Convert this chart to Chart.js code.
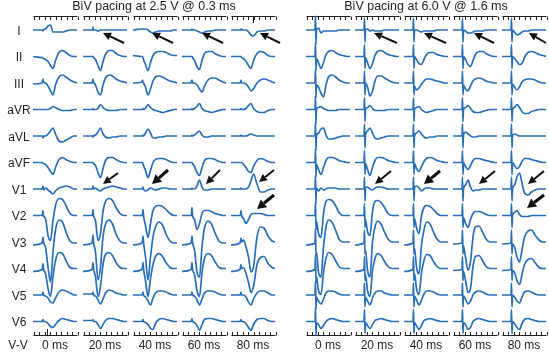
<!DOCTYPE html>
<html>
<head>
<meta charset="utf-8">
<script src="https://cdn.jsdelivr.net/npm/chart.js@4.4.1/dist/chart.umd.min.js"></script>
<style>
  body { margin: 0; background: #fff; }
  #wrap { width: 549px; height: 353px; }
</style>
</head>
<body>
<div id="wrap"><canvas id="ecg" width="549" height="353"></canvas></div>
<script>
const PANELS = ['BiV pacing at 2.5 V @ 0.3 ms', 'BiV pacing at 6.0 V @ 1.6 ms'];
const DELAYS = ['0 ms', '20 ms', '40 ms', '60 ms', '80 ms'];
const LEADS = ['I', 'II', 'III', 'aVR', 'aVL', 'aVF', 'V1', 'V2', 'V3', 'V4', 'V5', 'V6'];

// sample times inside one strip
const T = [0, 9, 9.5, 10, 10.5, 12.5, 15, 17.5, 20, 22.5, 26, 29.5, 33, 37, 41, 44];

// amplitudes per strip (5 V-V delays), left = 2.5 V, right = 6.0 V
const I_L = [
    [0,0,0,-1,0,1,4,5,-2,-2,-2,-2,-1,0,0,0],
    [0,0,0,3,0,0,-1,0,0,0,0,0,0,0,0,0],
    [0,1,1,1,1,1,0,-2,-3,-2,-1,-1,-1,-1,0,0],
    [0,0,0,1,0,0,-1,-2,-3,-2,-1,-1,0,0,0,0],
    [0,0,0,1,0,0,0,-2,-5,-6,-2,-1,-1,0,0,0]
];
const I_R = [
    [0,0,14,-14,0,2,-3,-1,-1,-1,-1,-1,0,0,0,0],
    [0,0,12,-12,0,1,-1,0,-1,-1,-1,0,0,0,0,0],
    [0,0,12,-12,0,0,-1,-2,-1,-1,-1,-1,0,0,0,0],
    [0,0,12,-12,0,-1,-3,-3,-2,-1,-1,-1,0,0,0,0],
    [0,0,12,-12,0,-2,-5,-4,-2,-1,-1,0,0,0,0,0]
];
const II_L = [
    [0,-1,-1,-2,-2,-3,-5,-9,-12,-4,4,6,4,1,0,0],
    [0,0,0,0,-1,-3,-9,-14,-5,2,6,6,3,1,0,0],
    [1,0,0,-1,-3,-8,-14,-6,1,4,5,5,4,2,1,1],
    [0,0,0,0,-1,-4,-10,-13,-4,3,5,5,3,1,0,0],
    [0,0,0,0,-1,-2,-5,-9,-12,-4,3,5,4,1,0,0]
];
const II_R = [
    [0,0,14,-14,-2,-6,-12,-6,2,5,6,4,2,1,0,0],
    [0,0,12,-12,-1,-6,-12,-7,1,5,6,4,2,1,0,0],
    [0,0,12,-12,0,-3,-7,-8,-3,2,4,4,2,1,0,0],
    [0,0,12,-12,0,-3,-8,-10,-4,2,5,5,3,1,0,0],
    [0,0,12,-12,0,-2,-5,-8,-7,-1,4,5,4,2,1,0]
];
const III_L = [
    [-1,0,2,4,1,0,-3,-8,-12,-2,6,8,6,3,1,0],
    [0,0,2,4,1,-2,-9,-12,-2,5,8,7,4,2,1,0],
    [0,1,3,1,0,-4,-12,-6,2,6,7,6,4,2,1,0],
    [0,0,2,3,0,0,-2,-6,-9,-3,3,5,5,3,1,0],
    [0,0,1,3,0,0,-1,-4,-8,-6,0,3,4,3,1,0]
];
const III_R = [
    [0,0,14,-14,-2,-4,-10,-14,-2,6,8,6,3,1,0,0],
    [0,0,12,-12,0,-4,-13,-8,2,7,7,5,3,1,0,0],
    [0,0,12,-12,-3,-7,-5,-1,2,4,4,3,2,1,0,0],
    [0,0,12,-12,-2,-6,-8,-3,2,4,5,4,2,1,0,0],
    [0,0,12,-12,-1,-4,-7,-4,1,3,4,4,3,1,0,0]
];
const aVR_L = [
    [0,0,0,0,0,0,0,1,3,2,0,-1,-1,-1,0,0],
    [0,0,0,1,0,0,1,5,2,0,-1,-1,-1,0,0,0],
    [0,0,0,1,0,1,5,2,0,-1,-2,-3,-2,-1,0,0],
    [0,0,0,1,0,1,3,6,1,-1,-2,-3,-2,-1,0,0],
    [0,0,0,1,0,0,1,4,6,1,-2,-3,-3,-1,0,0]
];
const aVR_R = [
    [0,0,14,-14,0,2,3,1,0,-1,-1,-1,0,0,0,0],
    [0,0,12,-12,0,2,4,1,-1,-1,-1,-1,0,0,0,0],
    [0,0,12,-12,0,2,3,0,-2,-3,-2,-1,0,0,0,0],
    [0,0,12,-12,0,2,4,1,-2,-3,-3,-2,-1,0,0,0],
    [0,0,12,-12,0,2,5,2,-2,-4,-4,-2,-1,0,0,0]
];
const aVL_L = [
    [0,0,0,-2,0,0,2,5,8,2,-5,-6,-4,-2,0,0],
    [0,0,0,-1,0,1,4,8,2,-1,-2,-1,-1,0,0,0],
    [0,0,0,1,0,3,7,3,-2,-2,-1,-1,0,0,0,0],
    [0,0,0,1,0,1,3,5,1,-1,-1,0,0,0,0,0],
    [0,0,0,1,0,0,0,1,2,1,0,0,0,0,0,0]
];
const aVL_R = [
    [0,0,14,-14,0,3,7,8,1,-3,-3,-2,-1,0,0,0],
    [0,0,12,-12,1,5,8,3,-2,-3,-2,-1,0,0,0,0],
    [0,0,12,-12,0,3,5,2,-1,-2,-1,-1,0,0,0,0],
    [0,0,12,-12,1,4,2,0,-1,-1,0,0,0,0,0,0],
    [0,0,12,-12,0,2,1,0,0,0,0,0,0,0,0,0]
];
const aVF_L = [
    [0,0,0,-1,-1,-2,-5,-9,-12,-5,3,5,3,1,0,0],
    [0,0,0,0,-1,-3,-10,-15,-6,2,5,5,3,1,0,0],
    [0,0,0,-1,-3,-8,-15,-8,0,3,4,4,3,1,0,0],
    [0,0,0,0,-1,-4,-10,-13,-5,2,4,4,3,1,0,0],
    [0,0,0,0,0,-2,-5,-9,-10,-4,2,4,3,1,0,0]
];
const aVF_R = [
    [0,0,14,-14,-2,-7,-12,-5,2,5,5,4,2,1,0,0],
    [0,0,12,-12,-1,-7,-13,-5,2,5,5,4,2,1,0,0],
    [0,0,12,-12,-1,-6,-9,-4,1,4,5,4,2,1,0,0],
    [0,0,12,-12,0,-4,-7,-3,2,4,4,3,2,1,0,0],
    [0,0,12,-12,0,-3,-6,-4,1,4,4,3,2,1,0,0]
];
const V1_L = [
    [0,0,1,3,-1,1,-1,-3,-5,-2,1,2,3,2,0,0],
    [0,0,1,3,0,1,-1,-2,0,1,2,3,2,1,0,0],
    [0,0,1,2,0,-2,-1,1,0,-1,0,1,1,0,0,0],
    [0,0,0,1,0,0,3,9,2,-1,-1,0,0,0,0,0],
    [0,0,0,1,0,0,0,2,8,15,5,-3,-3,-1,0,0]
];
const V1_R = [
    [0,0,14,-14,1,-2,1,-1,0,1,1,1,0,0,0,0],
    [0,0,12,-12,1,2,0,-1,1,2,2,1,0,0,0,0],
    [0,0,12,-12,1,3,1,-2,0,1,1,0,0,0,0,0],
    [0,0,12,-12,0,4,9,2,-2,-1,-1,0,0,0,0,0],
    [0,0,12,-12,0,4,12,16,6,-4,-6,-3,-1,0,0,0]
];
const V2_L = [
    [0,0,1,5,0,-3,-20,-25,-5,10,17,16,10,2,0,0],
    [0,0,2,6,0,-5,-25,-18,4,14,17,15,8,2,0,0],
    [0,0,1,6,0,-10,-22,-8,5,9,10,9,6,2,0,0],
    [0,0,2,8,0,-4,-14,-8,2,5,5,4,2,1,0,0],
    [0,0,1,5,0,-3,-8,-4,1,2,2,2,1,0,0,0]
];
const V2_R = [
    [0,0,14,-14,-6,-18,-22,2,14,16,15,10,3,0,0,0],
    [0,0,12,-12,-4,-16,-20,4,14,15,13,8,2,0,0,0],
    [0,0,12,-12,-3,-12,-18,0,8,10,9,6,2,0,0,0],
    [0,0,12,-12,-2,-8,-12,-4,2,4,4,3,1,0,0,0],
    [0,0,12,-12,0,3,5,1,-1,-1,-1,0,0,0,0,0]
];
const V3_L = [
    [-3,-1,1,5,0,-5,-25,-40,-10,12,22,20,10,1,-1,-1],
    [-3,-1,2,7,0,-10,-38,-25,5,18,22,18,8,1,-1,-1],
    [-3,-1,2,6,0,-15,-38,-15,5,15,20,17,8,1,-1,-1],
    [-3,-1,2,6,0,-8,-30,-35,-5,14,21,18,9,1,-1,-1],
    [-3,-1,1,4,0,2,-5,-15,-30,-25,5,15,14,6,1,0]
];
const V3_R = [
    [-3,-1,14,-14,-10,-30,-35,-5,15,22,20,12,3,0,0,0],
    [-3,-1,12,-12,-8,-28,-35,0,15,21,18,10,3,0,0,0],
    [-3,-1,12,-12,-6,-25,-32,-3,12,20,18,10,3,0,0,0],
    [-2,-1,12,-12,-4,-15,-28,-20,5,15,16,10,3,0,0,0],
    [-2,-1,12,-12,-2,-5,-15,-20,-8,5,11,12,7,2,0,0]
];
const V4_L = [
    [-3,-1,1,5,0,-5,-20,-28,-8,8,16,15,8,1,0,0],
    [-3,-1,2,6,0,-8,-28,-18,4,14,16,13,6,1,0,0],
    [-3,-1,2,6,0,-12,-28,-10,4,12,15,12,6,1,0,0],
    [-3,-1,2,6,0,-6,-22,-28,-4,10,15,13,7,1,0,0],
    [-3,-1,1,4,0,1,-5,-14,-24,-18,4,11,12,5,1,0]
];
const V4_R = [
    [-3,-1,14,-14,-8,-22,-26,-4,10,16,14,8,2,0,0,0],
    [-3,-1,12,-12,-6,-22,-28,-2,10,15,13,7,2,0,0,0],
    [-3,-1,12,-12,-5,-20,-26,-4,8,14,13,7,2,0,0,0],
    [-2,-1,12,-12,-3,-12,-24,-20,2,12,13,8,2,0,0,0],
    [-2,-1,12,-12,-2,-4,-12,-16,-6,4,9,10,6,1,0,0]
];
const V5_L = [
    [0,0,1,3,0,-1,-3,-7,-8,-3,3,5,4,2,0,0],
    [1,1,1,3,0,-1,-5,-9,-4,2,5,4,2,1,0,0],
    [0,0,1,3,0,-2,-6,-10,-3,2,4,4,3,1,0,0],
    [0,0,1,3,0,-1,-5,-10,-4,2,4,4,3,1,0,0],
    [0,0,1,3,0,0,-2,-7,-10,-4,2,4,4,2,0,0]
];
const V5_R = [
    [0,0,14,-14,-2,-6,-9,-4,2,4,4,3,1,0,0,0],
    [0,0,12,-12,-2,-6,-10,-3,2,4,4,2,1,0,0,0],
    [0,0,12,-12,-1,-5,-10,-5,1,4,4,3,1,0,0,0],
    [0,0,12,-12,-1,-4,-9,-6,0,3,4,3,1,0,0,0],
    [0,0,12,-12,0,-2,-6,-8,-2,3,4,3,1,0,0,0]
];
const V6_L = [
    [0,0,1,2,0,0,-2,-5,-6,-3,1,3,2,1,0,0],
    [1,1,1,2,0,0,-3,-7,-3,1,3,3,2,1,0,0],
    [0,0,1,2,0,-1,-3,-7,-8,-2,2,3,2,1,0,0],
    [0,0,1,3,0,-1,-4,-9,-3,2,3,3,2,1,0,0],
    [0,0,1,2,0,0,-2,-6,-9,-3,2,3,3,1,0,0]
];
const V6_R = [
    [0,0,14,-14,-1,-3,-7,-4,0,2,3,2,1,0,0,0],
    [0,0,12,-12,-1,-4,-7,-3,1,2,3,2,1,0,0,0],
    [0,0,12,-12,-1,-4,-8,-4,1,2,3,2,1,0,0,0],
    [0,0,12,-12,-1,-3,-8,-6,0,2,3,2,1,0,0,0],
    [0,0,12,-12,0,-2,-6,-8,-2,2,3,2,1,0,0,0]
];

// arrows: [panel, delay, lead, tipT, tipAmp, tailT, tailAmp, heavy]
const ARROWS = [
    [0,1,0, 20,-3, 41,-13, 0], [0,2,0, 19,-3, 40,-13, 0], [0,3,0, 20,-3, 41,-13, 0], [0,4,0, 29,-3, 49,-13, 0],
    [1,1,0, 19,-3, 42,-13, 0], [1,2,0, 20,-3, 42,-13, 0], [1,3,0, 21,-3, 41,-13, 0], [1,4,0, 27,-3, 44,-13, 0],
    [0,1,6, 20,5, 35,16, 0], [0,2,6, 19,5, 35,19, 1], [0,3,6, 24,5, 38,19, 0], [0,4,6, 28,7, 43,19, 0],
    [0,4,7, 26,6.5, 43,20.5, 1],
    [1,1,6, 20,5, 36,18, 0], [1,2,6, 20,5, 36,18, 1], [1,3,6, 26,5, 42,18, 0], [1,4,6, 26,5, 42,18, 0],
    [1,4,7, 25,7.5, 42,20.5, 1]
];

const WAVES = [
    [I_L, I_R], [II_L, II_R], [III_L, III_R], [aVR_L, aVR_R], [aVL_L, aVL_R], [aVF_L, aVF_R],
    [V1_L, V1_R], [V2_L, V2_R], [V3_L, V3_R], [V4_L, V4_R], [V5_L, V5_R], [V6_L, V6_R]
];

/* Layout */

const COL_START = [[33, 83, 133, 182, 231], [306, 355, 404, 453, 502]];
const COL_W = 44;
const ROW_TOP = 30;
const ROW_GAP = 26.5;
const BLUE = '#2b6fb8';
const INK = '#231f20';

function baseline(lead) {
    return ROW_TOP + lead * ROW_GAP;
}

const datasets = [];
WAVES.forEach((pair, lead) => {
    pair.forEach((strips, panel) => {
        strips.forEach((vals, c) => {
            datasets.push({
                data: T.map((t, k) => ({ x: COL_START[panel][c] + t, y: baseline(lead) - vals[k] })),
                borderColor: BLUE,
                borderWidth: 1.7,
                pointRadius: 0,
                cubicInterpolationMode: 'monotone',
                fill: false
            });
        });
    });
});

/* Decoration: titles, lead names, rulers, arrows */

const ecgDecor = {
    id: 'ecgDecor',
    beforeDatasetsDraw(chart) {
        const { ctx, scales: { x, y } } = chart;
        ctx.save();
        ctx.fillStyle = INK;
        ctx.textBaseline = 'middle';
        ctx.textAlign = 'center';

        ctx.font = '12.5px "Liberation Sans", Arial, sans-serif';
        PANELS.forEach((title, p) => {
            const cx = (x.getPixelForValue(COL_START[p][0]) + x.getPixelForValue(COL_START[p][4] + COL_W)) / 2;
            ctx.fillText(title, cx, 7);
        });

        ctx.font = '12px "Liberation Sans", Arial, sans-serif';
        LEADS.forEach((name, l) => {
            ctx.fillText(name, 19, y.getPixelForValue(baseline(l)) + 1.5);
        });
        ctx.fillText('V-V', 18, 346);
        COL_START.forEach(cols => {
            cols.forEach((start, c) => {
                const cx = x.getPixelForValue(start + COL_W / 2);
                ctx.fillText(DELAYS[c], cx, 346);
            });
        });

        // time rulers above and below each strip
        ctx.strokeStyle = INK;
        ctx.lineWidth = 1;
        COL_START.forEach((cols, p) => {
            cols.forEach((start, c) => {
                const x0 = Math.round(x.getPixelForValue(start)) + 0.5;
                const x1 = Math.round(x.getPixelForValue(start + COL_W)) + 0.5;
                ctx.beginPath();
                ctx.moveTo(x0, 16.5); ctx.lineTo(x1, 16.5);
                ctx.moveTo(x0, 335.5); ctx.lineTo(x1, 335.5);
                for (let i = 0; i <= 8; i++) {
                    const tx = Math.round(x0 + (x1 - x0) * i / 8) + 0.5;
                    ctx.moveTo(tx, 16.5); ctx.lineTo(tx, 20);
                    ctx.moveTo(tx, 335.5); ctx.lineTo(tx, 332);
                }
                if (p === 0 && c === 0) {
                    const tx = Math.round(x.getPixelForValue(start + 14)) + 0.5;
                    ctx.moveTo(tx, 335.5); ctx.lineTo(tx, 329);
                }
                if (p === 0 && c === 4) {
                    const tx = Math.round(x.getPixelForValue(start + 22)) + 0.5;
                    ctx.moveTo(tx, 16.5); ctx.lineTo(tx, 23);
                }
                ctx.stroke();
            });
        });
        ctx.restore();
    },
    afterDatasetsDraw(chart) {
        const { ctx, scales: { x, y } } = chart;
        ctx.save();
        ctx.fillStyle = '#111';
        ctx.strokeStyle = '#111';
        ARROWS.forEach(([p, c, l, tipT, tipA, tailT, tailA, heavy]) => {
            const tx = x.getPixelForValue(COL_START[p][c] + tipT);
            const ty = y.getPixelForValue(baseline(l) - tipA);
            const sx = x.getPixelForValue(COL_START[p][c] + tailT);
            const sy = y.getPixelForValue(baseline(l) - tailA);
            const ang = Math.atan2(ty - sy, tx - sx);
            const headLen = heavy ? 9 : 8;
            const headW = heavy ? 5 : 4;
            const bx = tx - Math.cos(ang) * headLen;
            const by = ty - Math.sin(ang) * headLen;
            ctx.lineWidth = heavy ? 3 : 2;
            ctx.beginPath();
            ctx.moveTo(sx, sy);
            ctx.lineTo(bx, by);
            ctx.stroke();
            ctx.beginPath();
            ctx.moveTo(tx, ty);
            ctx.lineTo(bx + Math.sin(ang) * headW, by - Math.cos(ang) * headW);
            ctx.lineTo(bx - Math.sin(ang) * headW, by + Math.cos(ang) * headW);
            ctx.closePath();
            ctx.fill();
        });
        ctx.restore();
    }
};

new Chart(document.getElementById('ecg'), {
    type: 'line',
    data: { datasets },
    options: {
        responsive: false,
        animation: false,
        events: [],
        layout: { padding: 0 },
        plugins: { legend: { display: false }, tooltip: { enabled: false } },
        scales: {
            x: { type: 'linear', min: 0, max: 549, display: false },
            y: { type: 'linear', min: 0, max: 353, reverse: true, display: false }
        }
    },
    plugins: [ecgDecor]
});
</script>
</body>
</html>
